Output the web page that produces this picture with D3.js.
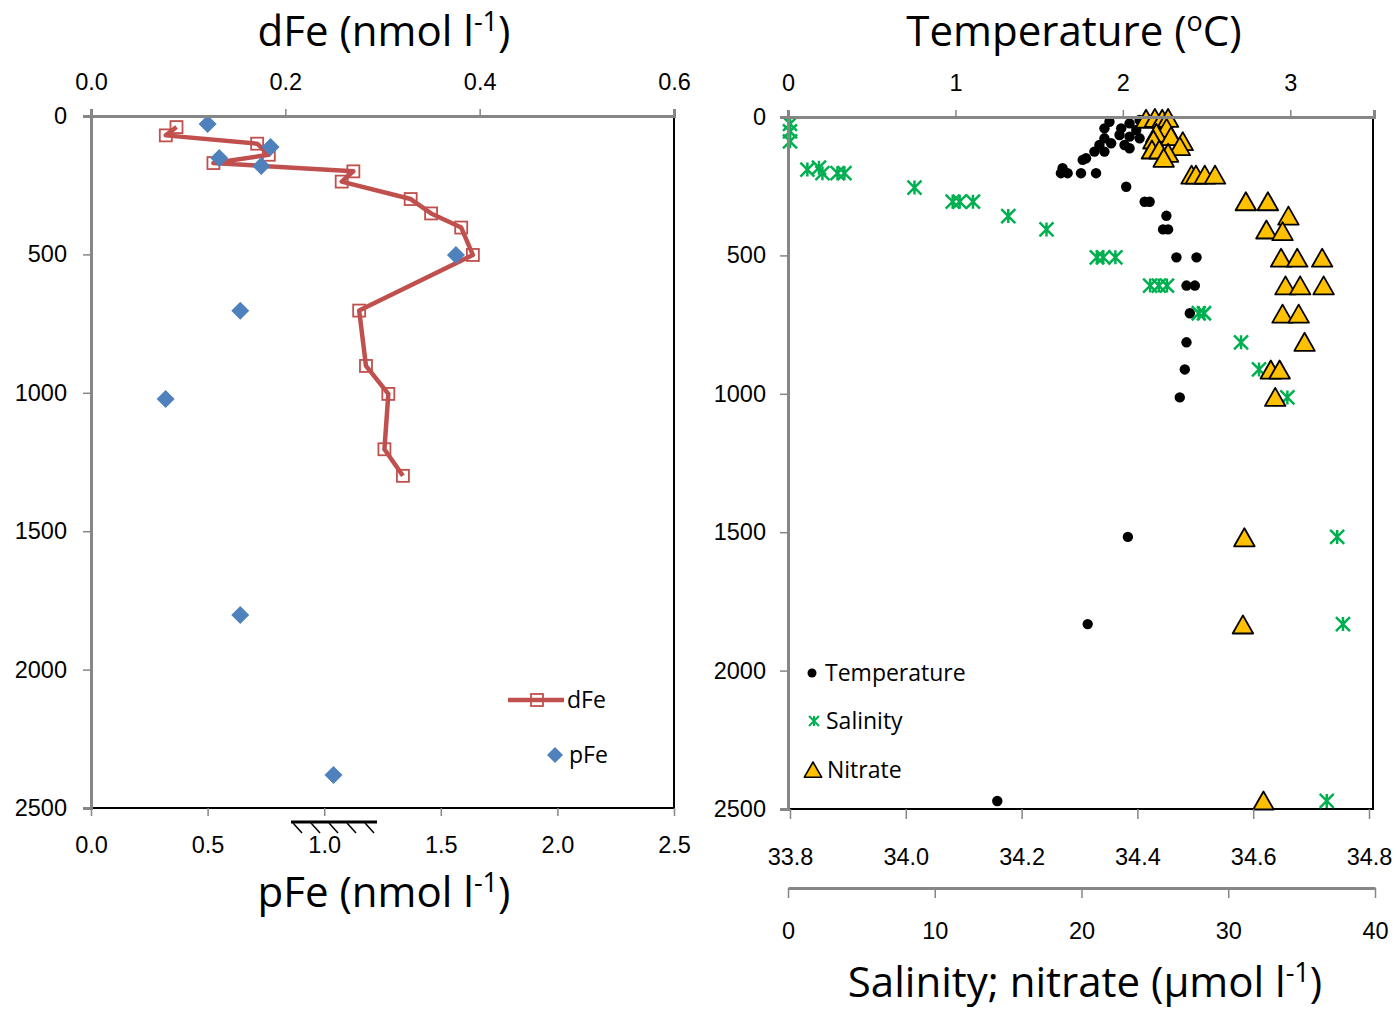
<!DOCTYPE html>
<html lang="en">
<head>
<meta charset="UTF-8">
<title>Fe, temperature, salinity and nitrate profiles</title>
<script src="https://d3js.org/d3.v7.min.js"></script>
<style>
    body { margin: 0; background: #fff; }
    svg { display: block; font-family: "Open Sans", sans-serif; }
    .tick text { font-size: 23.5px; fill: #000; }
    .title { font-size: 42px; fill: #000; }
    .legend { font-size: 23px; fill: #000; }
</style>
</head>
<body>
<div id="chart"></div>
<script>
// depth axis shared by both panels
const depthTicks = [0, 500, 1000, 1500, 2000, 2500];

// left panel: dissolved Fe (top axis) and particulate Fe (bottom axis)
const dFeTicks = [0, 0.2, 0.4, 0.6];
const pFeTicks = [0, 0.5, 1.0, 1.5, 2.0, 2.5];
const dFeDepth = [40, 70, 100, 140, 170, 200, 237, 300, 352, 403, 502, 703, 903, 1004, 1204, 1300];
const dFeValue = [0.088, 0.077, 0.171, 0.183, 0.126, 0.270, 0.258, 0.329, 0.350, 0.381, 0.393, 0.276, 0.283, 0.306, 0.302, 0.321];
const pFeDepth = [29, 112, 152, 181, 502, 704, 1022, 1803, 2381];
const pFeValue = [0.50, 0.77, 0.55, 0.73, 1.565, 0.64, 0.32, 0.64, 1.04];

// right panel: temperature (top), salinity and nitrate (bottom)
const tempTicks = [0, 1, 2, 3];
const salTicks = [33.8, 34.0, 34.2, 34.4, 34.6, 34.8];
const nitTicks = [0, 10, 20, 30, 40];
const tempDepth = [17, 41, 41, 23, 11, 17, 22, 8, 47, 65, 71, 77, 77, 95, 101, 101, 113, 125, 125, 149, 155,
    185, 203, 203, 203, 203, 252, 306, 306, 357, 406, 406, 507, 507, 609, 609, 709, 814, 912, 1013, 1517, 1832, 2471];
const tempValue = [1.92, 1.89, 1.99, 2.04, 2.10, 2.14, 2.18, 2.22, 2.08, 1.98, 2.04, 2.10, 1.89, 1.93, 1.86, 2.01, 2.04, 1.89, 1.83, 1.78, 1.76,
    1.64, 1.63, 1.67, 1.75, 1.84, 2.02, 2.13, 2.16, 2.26, 2.24, 2.27, 2.32, 2.44, 2.38, 2.43, 2.40, 2.38, 2.37, 2.34, 2.03, 1.79, 1.25];
const salDepth = [25, 52, 88, 190, 183, 203, 203, 203, 255, 306, 306, 306, 358, 406, 507, 507, 507, 609, 609, 609,
    709, 709, 814, 912, 1013, 1517, 1832, 2471];
const salValue = [33.80, 33.80, 33.80, 33.83, 33.85, 33.856, 33.882, 33.894, 34.015, 34.081, 34.093, 34.116, 34.177, 34.243,
    34.330, 34.341, 34.362, 34.422, 34.437, 34.451, 34.506, 34.515, 34.579, 34.610, 34.659, 34.745, 34.755, 34.727];
const nitDepth = [8, 5, 8, 5, 41, 59, 71, 83, 89, 107, 119, 119, 131, 149, 210, 210, 210, 210,
    306, 306, 358, 408, 414, 510, 510, 510, 610, 610, 610, 712, 712, 814, 914, 914, 1013, 1520, 1835, 2471];
const nitValue = [24.4, 25.0, 25.5, 25.9, 25.8, 25.1, 26.1, 24.9, 26.9, 26.7, 24.8, 25.3, 25.9, 25.6, 27.5, 27.8, 28.4, 29.1,
    31.2, 32.7, 34.1, 32.6, 33.7, 33.6, 34.7, 36.4, 33.9, 34.9, 36.5, 33.7, 34.8, 35.2, 32.9, 33.5, 33.2, 31.1, 31.0, 32.4];

const W = 1397, H = 1009;
const gray = "#868686";
const red = "#C0504D", blue = "#4F81BD", green = "#00B050", gold = "#FFC000";

const svg = d3.select("#chart").append("svg").attr("width", W).attr("height", H);

// scales
const yL = d3.scaleLinear().domain([0, 2500]).range([116, 808]);
const xDFe = d3.scaleLinear().domain([0, 0.6]).range([91, 674]);
const xPFe = d3.scaleLinear().domain([0, 2.5]).range([91, 674]);
const yR = d3.scaleLinear().domain([0, 2500]).range([117, 809]);
const xT = d3.scaleLinear().domain([0, 3.5]).range([788, 1374]);
const xS = d3.scaleLinear().domain([33.8, 34.8]).range([790, 1369]);
const xN = d3.scaleLinear().domain([0, 40]).range([788, 1375]);

// marker shapes
const diamond = h => `M0,${-h}L${h},0L0,${h}L${-h},0Z`;
const triangle = s => `M0,${-s}L${s * 1.08},${s * 0.9}L${-s * 1.08},${s * 0.9}Z`;
const star = s => `M${-s},${-s}L${s},${s}M${-s},${s}L${s},${-s}M0,${-s}L0,${s}`;

function styleAxis(g, domainColor) {
    g.select(".domain").attr("stroke", domainColor).attr("stroke-width", 3);
    g.selectAll(".tick line").attr("stroke", gray).attr("stroke-width", 1.5);
}

// title with a superscript part
function title(sel, x, y, before, sup, after) {
    sel.append("text").attr("class", "title").attr("x", x).attr("y", y).attr("text-anchor", "middle")
        .call(t => {
            t.append("tspan").text(before);
            t.append("tspan").attr("dy", -15).style("font-size", "27px").text(sup);
            t.append("tspan").attr("dy", 15).text(after);
        });
}

// ---------- left panel ----------
const left = svg.append("g");
left.append("rect").attr("x", 91).attr("y", 116).attr("width", 583).attr("height", 692)
    .attr("fill", "none").attr("stroke", "#000").attr("stroke-width", 2);

const dFe = dFeDepth.map((d, i) => ({ depth: d, v: dFeValue[i] }));
left.append("path").datum(dFe)
    .attr("fill", "none").attr("stroke", red).attr("stroke-width", 4.5).attr("stroke-linejoin", "round")
    .attr("d", d3.line().x(d => xDFe(d.v)).y(d => yL(d.depth)));
left.selectAll(".sq").data(dFe).join("rect")
    .attr("x", d => xDFe(d.v) - 6).attr("y", d => yL(d.depth) - 6)
    .attr("width", 12).attr("height", 12)
    .attr("fill", "none").attr("stroke", red).attr("stroke-width", 1.8);

const pFe = pFeDepth.map((d, i) => ({ depth: d, v: pFeValue[i] }));
left.selectAll(".dia").data(pFe).join("path")
    .attr("transform", d => `translate(${xPFe(d.v)},${yL(d.depth)})`)
    .attr("d", diamond(9)).attr("fill", blue);

left.append("g").attr("transform", "translate(0,116)")
    .call(d3.axisTop(xDFe).tickValues(dFeTicks).tickFormat(d3.format(".1f")).tickSize(7).tickPadding(19))
    .call(g => styleAxis(g, gray));
left.append("g").attr("transform", "translate(91,0)")
    .call(d3.axisLeft(yL).tickValues(depthTicks).tickFormat(d3.format("d")).tickSize(8).tickPadding(16))
    .call(g => styleAxis(g, gray));
left.append("g").attr("transform", "translate(0,808)")
    .call(d3.axisBottom(xPFe).tickValues(pFeTicks).tickFormat(d3.format(".1f")).tickSize(8).tickPadding(20))
    .call(g => { styleAxis(g, gray); g.select(".domain").remove(); });

// hatch mark under the pFe axis
const hatch = left.append("g").attr("stroke", "#000");
hatch.append("line").attr("x1", 291).attr("x2", 377).attr("y1", 822).attr("y2", 822).attr("stroke-width", 3);
[293, 311, 329, 347, 365].forEach(x => {
    hatch.append("line").attr("x1", x).attr("y1", 823).attr("x2", x + 9).attr("y2", 833).attr("stroke-width", 1.5);
});

title(left, 384, 46, "dFe (nmol l", "-1", ")");
title(left, 384, 907, "pFe (nmol l", "-1", ")");

// legend
left.append("line").attr("x1", 508).attr("x2", 564).attr("y1", 700).attr("y2", 700)
    .attr("stroke", red).attr("stroke-width", 4.5);
left.append("rect").attr("x", 531).attr("y", 694).attr("width", 12).attr("height", 12)
    .attr("fill", "none").attr("stroke", red).attr("stroke-width", 1.8);
left.append("text").attr("class", "legend").attr("x", 567).attr("y", 708).text("dFe");
left.append("path").attr("transform", "translate(555,755)").attr("d", diamond(8)).attr("fill", blue);
left.append("text").attr("class", "legend").attr("x", 569).attr("y", 763).text("pFe");

// ---------- right panel ----------
const right = svg.append("g");
right.append("rect").attr("x", 788).attr("y", 117).attr("width", 585).attr("height", 692)
    .attr("fill", "none").attr("stroke", "#000").attr("stroke-width", 2);

right.selectAll(".temp").data(tempDepth.map((d, i) => ({ depth: d, v: tempValue[i] }))).join("circle")
    .attr("cx", d => xT(d.v)).attr("cy", d => yR(d.depth)).attr("r", 5.2).attr("fill", "#000");

right.selectAll(".sal").data(salDepth.map((d, i) => ({ depth: d, v: salValue[i] }))).join("path")
    .attr("transform", d => `translate(${xS(d.v)},${yR(d.depth)})`)
    .attr("d", star(7)).attr("fill", "none").attr("stroke", green).attr("stroke-width", 2.5);

right.selectAll(".nit").data(nitDepth.map((d, i) => ({ depth: d, v: nitValue[i] }))).join("path")
    .attr("transform", d => `translate(${xN(d.v)},${yR(d.depth)})`)
    .attr("d", triangle(9.5)).attr("fill", gold).attr("stroke", "#000").attr("stroke-width", 1.8)
    .attr("stroke-linejoin", "round");

right.append("g").attr("transform", "translate(0,117)")
    .call(d3.axisTop(xT).tickValues(tempTicks).tickFormat(d3.format("d")).tickSize(7).tickPadding(19))
    .call(g => styleAxis(g, gray));
right.append("g").attr("transform", "translate(788,0)")
    .call(d3.axisLeft(yR).tickValues(depthTicks).tickFormat(d3.format("d")).tickSize(8).tickPadding(14))
    .call(g => styleAxis(g, gray));
right.append("g").attr("transform", "translate(0,809)")
    .call(d3.axisBottom(xS).tickValues(salTicks).tickFormat(d3.format(".1f")).tickSize(10).tickPadding(29))
    .call(g => { styleAxis(g, gray); g.select(".domain").remove(); });
right.append("g").attr("transform", "translate(0,888)")
    .call(d3.axisBottom(xN).tickValues(nitTicks).tickFormat(d3.format("d")).tickSize(10).tickPadding(24).tickSizeOuter(0))
    .call(g => styleAxis(g, gray));

title(right, 1074, 46, "Temperature (", "o", "C)");
title(right, 1085, 997, "Salinity; nitrate (\u03bcmol l", "-1", ")");

// legend
right.append("circle").attr("cx", 812).attr("cy", 673).attr("r", 4.5).attr("fill", "#000");
right.append("text").attr("class", "legend").attr("x", 825).attr("y", 681).text("Temperature");
right.append("path").attr("transform", "translate(814,721)").attr("d", star(5))
    .attr("fill", "none").attr("stroke", green).attr("stroke-width", 2);
right.append("text").attr("class", "legend").attr("x", 826).attr("y", 729).text("Salinity");
right.append("path").attr("transform", "translate(813,770)").attr("d", triangle(8))
    .attr("fill", gold).attr("stroke", "#000").attr("stroke-width", 1.6).attr("stroke-linejoin", "round");
right.append("text").attr("class", "legend").attr("x", 827).attr("y", 778).text("Nitrate");
</script>
</body>
</html>
